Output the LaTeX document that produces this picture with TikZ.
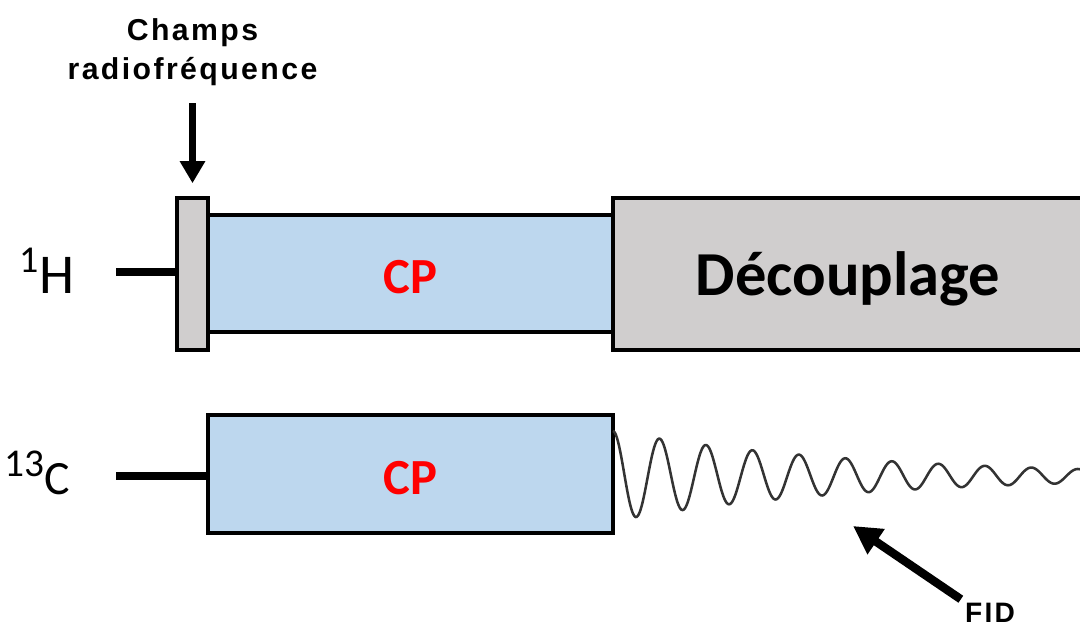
\documentclass[tikz,border=0pt]{standalone}
\usepackage{fontspec}
\setmainfont{Carlito}
\newfontfamily\labelfont[LetterSpace=8]{Liberation Sans}
\usepackage{xcolor}
\usepackage{tikz}
\usetikzlibrary{arrows.meta, positioning}

\definecolor{cpblue}{HTML}{BDD7EE}
\definecolor{pulsegray}{HTML}{D0CECE}
\definecolor{cpred}{HTML}{FF0000}
\definecolor{wavegray}{HTML}{333333}

\begin{document}
\begin{tikzpicture}[
    pulse/.style={rectangle, draw=black, line width=2.5pt, fill=pulsegray, inner sep=0pt},
    cpbox/.style={rectangle, draw=black, line width=2.5pt, fill=cpblue, minimum width=10.125cm, inner sep=0pt, text height=1cm, text depth=0pt, text=cpred, font=\fontsize{36}{40}\selectfont\bfseries},
    lead/.style={line width=5.5pt},
    nucleus/.style={anchor=base east, inner sep=0pt},
    arrow/.style={-{Triangle[length=0.55cm, width=0.6cm]}, line width=4.7pt},
    bigarrow/.style={-{Triangle[length=0.7cm, width=0.72cm]}, line width=6pt}
]
\useasboundingbox (0,0) rectangle (27,15.75);
\clip (0,0) rectangle (27,15.75);

\node[cpbox, minimum height=2.925cm] (cp1) at (10.2625,8.9125) {CP};
\node[pulse, minimum width=0.775cm, minimum height=3.8cm] (rf) at (4.8125,8.9) {};
\node[pulse, minimum width=11.75cm, minimum height=3.8cm, text depth=0pt, font=\fontsize{44.5}{48}\selectfont\bfseries] (decoup) at (21.2,8.9) {Découplage};
\node[cpbox, minimum height=2.95cm] (cp2) at (10.2625,3.9) {CP};

\node[nucleus] (h1lbl) at (1.875,8.425) {\raisebox{0.52cm}{\fontsize{27}{27}\selectfont 1}\kern1pt\fontsize{40}{40}\selectfont H};
\node[nucleus] (c13lbl) at (1.75,3.4) {\raisebox{0.43cm}{\fontsize{28}{28}\selectfont 13}\fontsize{34}{34}\selectfont C};

\coordinate (h1lead) at (2.9,8.95);
\coordinate (c13lead) at (2.9,3.85);
\draw[lead] (h1lead) -- (rf.west |- h1lead);
\draw[lead] (c13lead) -- (cp2.west |- c13lead);

\node[inner sep=0pt, align=center, font=\labelfont\bfseries\fontsize{21.5}{28}\selectfont, above=2.75cm of rf] (rflbl) {Champs\\radiofréquence};
\draw[arrow, shorten <=0.43cm, shorten >=0.325cm] (rflbl.south) -- (rf.north);

\draw[wavegray, line width=1.8pt] plot[domain=15.325:27.2, samples=500, smooth] (\x, {3.85+1.125*exp(-(\x-15.325)/6.25)*cos(360*(\x-15.325)/1.1625)});

\node[inner sep=0.1cm, font=\labelfont\bfseries\fontsize{20}{20}\selectfont] (fidlbl) at (24.75,0.42) {FID};
\coordinate (fidtip) at (21.325,2.6);
\draw[bigarrow] (fidlbl.north west) -- (fidtip);

\end{tikzpicture}
\end{document}
